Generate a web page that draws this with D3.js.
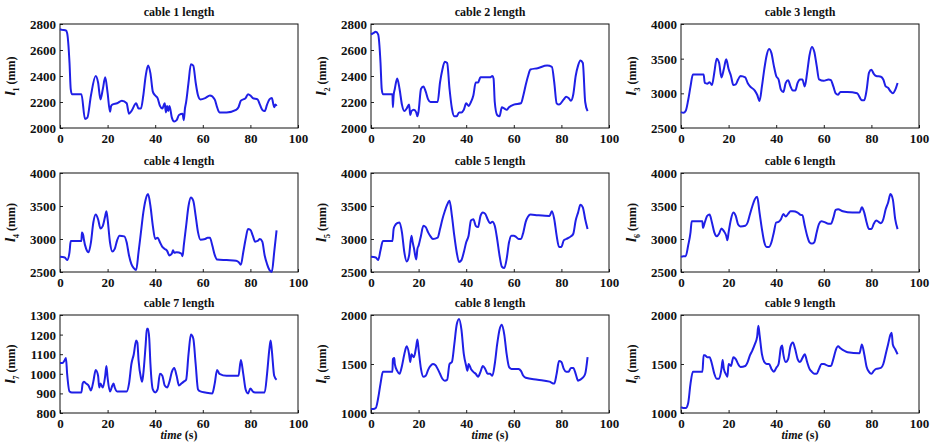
<!DOCTYPE html>
<html lang="en">
<head>
<meta charset="utf-8">
<title>cable lengths</title>
<script src="https://cdn.jsdelivr.net/npm/d3@7"></script>
<style>
  body { margin: 0; background: #fff; }
  svg text { font-family: "Liberation Serif", "DejaVu Serif", serif; font-weight: bold; fill: #111; }
</style>
</head>
<body>
<script>
// [time (s), length (mm)]
var cable1 = [[0,2760],[1,2755],[2.5,2750],[3,2730],[4,2500],[4.5,2300],[5,2260],[9,2260],[10.5,2070],[11.5,2080],[13,2250],[15,2400],[16,2350],[17,2220],[18,2300],[19,2390],[20,2270],[21,2125],[21.5,2170],[22,2180],[24,2190],[26,2210],[28,2190],[29,2110],[30,2130],[32,2190],[33,2150],[34,2150],[35,2250],[36,2400],[37,2480],[38,2420],[39,2280],[40,2250],[41,2230],[42,2170],[43,2150],[44,2190],[44.5,2120],[45,2170],[45.5,2130],[46,2170],[47,2080],[48,2050],[49,2060],[50,2100],[51.5,2110],[52,2060],[52.5,2150],[53,2200],[54,2350],[55,2490],[56,2480],[57,2350],[58,2250],[59,2220],[61,2230],[63,2250],[65,2220],[66,2160],[67,2120],[70,2120],[74,2140],[75,2160],[76,2210],[78,2230],[79,2260],[80,2250],[81,2230],[83,2220],[84,2180],[85,2140],[86,2130],[87,2180],[88,2220],[89,2230],[90,2160],[90.5,2180],[91,2170]];
var cable2 = [[0,2720],[1,2730],[2,2740],[3,2720],[4,2500],[4.5,2300],[5,2260],[9,2260],[9.2,2160],[9.5,2250],[10,2300],[11,2380],[12,2300],[13,2180],[14,2130],[15,2150],[16,2180],[16.5,2100],[17,2130],[18,2140],[19,2120],[19.5,2090],[20,2130],[21,2300],[22,2320],[23,2280],[24,2220],[25,2200],[28,2200],[29,2350],[30,2450],[31,2510],[32,2500],[33,2300],[34,2150],[35,2090],[36,2090],[37,2120],[38,2120],[39,2140],[40,2190],[41,2170],[42,2200],[43,2250],[44,2350],[45,2350],[46,2390],[48,2390],[50,2390],[51,2400],[51.5,2380],[52,2200],[53,2100],[54,2090],[55,2160],[56,2150],[57,2140],[58,2160],[60,2180],[63,2190],[64,2250],[65,2330],[66,2400],[67,2450],[70,2460],[74,2480],[76,2470],[77,2350],[78,2190],[79,2180],[81,2220],[82,2240],[83,2230],[84,2210],[85,2260],[86,2400],[87,2480],[88,2520],[89,2500],[90,2200],[91,2130]];
var cable3 = [[0,2730],[1,2720],[2,2750],[3,2900],[4,3100],[5,3270],[9.5,3270],[10,3150],[11,3140],[12,3160],[13,3120],[14,3300],[15,3500],[16,3440],[17,3230],[18,3350],[19,3490],[20,3350],[21,3250],[22,3120],[23,3130],[24,3200],[25,3250],[27,3230],[28,3150],[29,3100],[31,3040],[32,2980],[33,2890],[34,3100],[35,3350],[36,3550],[37,3640],[38,3580],[39,3400],[40,3250],[41,3200],[42,3050],[43,3020],[44,3150],[45,3190],[46,3100],[47,3040],[48,3040],[49,3150],[50,3200],[51,3200],[52,3100],[53,3300],[54,3550],[55,3670],[56,3600],[57,3400],[58,3200],[60,3180],[62,3200],[63,3190],[64,3100],[65,3000],[66,2980],[67,3020],[70,3020],[74,3000],[76,2900],[77,2900],[78,3050],[79,3300],[80,3340],[81,3280],[82,3250],[84,3240],[85,3200],[86,3100],[87,3080],[88,3030],[89,3000],[90,3050],[91,3150]];
var cable4 = [[0,2730],[2,2720],[3,2680],[4,2800],[4.5,2970],[9,2970],[9.2,3100],[9.8,3050],[10,3000],[11,2850],[12,2800],[13,2950],[14,3250],[15,3370],[16,3300],[17,3160],[18,3200],[19,3350],[19.5,3420],[20,3300],[21,2950],[22,2810],[23,2850],[24,2980],[25,3050],[27,3040],[28,2950],[29,2750],[30,2620],[31,2560],[32,2530],[33,2800],[34,3100],[35,3400],[36,3600],[37,3680],[38,3500],[39,3200],[40,3000],[41,3020],[42,2950],[43,2880],[44,2850],[45,2820],[46,2750],[47,2780],[47.5,2830],[48,2790],[49,2800],[51,2780],[51.5,2740],[52,2900],[53,3200],[54,3500],[55,3630],[56,3580],[57,3350],[58,3100],[59,2990],[61,3000],[62,3020],[63,3020],[64,2900],[65,2760],[66,2690],[70,2680],[74,2670],[75,2650],[76,2610],[77,2800],[78,3000],[79,3150],[80,3140],[81,3050],[82,2960],[83,2970],[84,3000],[85,2960],[86,2750],[87,2620],[88,2530],[89,2500],[90,2800],[91,3130]];
var cable5 = [[0,2730],[2,2720],[3,2680],[4,2830],[5,2970],[9,2970],[9.5,3150],[10,3200],[11,3240],[12,3250],[13,3100],[14,2800],[15,2660],[16,2750],[17,3050],[17.5,2950],[18,2870],[19,2690],[19.5,2850],[20,2900],[21,3050],[22,3200],[23,3180],[24,3100],[25,3040],[26,3000],[28,3020],[29,3150],[30,3300],[31,3420],[32,3520],[33,3580],[34,3350],[35,3050],[36,2800],[37,2650],[38,2680],[39,2800],[40,2950],[41,3050],[42,3280],[43,3300],[44,3200],[45,3180],[46,3350],[47,3400],[48,3380],[49,3300],[50,3240],[51,3260],[52,3200],[53,3000],[54,2750],[55,2580],[56,2560],[57,2700],[58,2950],[59,3050],[60,3050],[61,3030],[62,3000],[63,3000],[64,3100],[65,3260],[66,3340],[67,3370],[70,3360],[75,3350],[76,3420],[77,3300],[78,3050],[79,2880],[80,2880],[81,2980],[82,3000],[84,3040],[85,3080],[86,3280],[87,3400],[88,3520],[89,3480],[90,3300],[91,3150]];
var cable6 = [[0,2730],[1,2740],[2,2740],[3,2900],[4,3100],[4.5,3270],[9,3270],[9.2,3170],[10,3250],[11,3350],[12,3370],[13,3250],[14,3100],[15,3040],[16,3080],[17,3160],[18,3120],[19,3050],[19.5,2980],[20,3100],[21,3300],[22,3400],[23,3350],[24,3220],[25,3190],[27,3200],[28,3250],[29,3380],[30,3500],[31,3600],[32,3640],[33,3400],[34,3150],[35,2950],[36,2880],[37,2880],[38,2950],[39,3100],[40,3250],[41,3260],[42,3300],[43,3380],[44,3340],[45,3380],[46,3420],[47,3420],[49,3400],[50,3370],[51,3360],[52,3200],[53,3050],[54,2950],[55,2930],[56,2950],[57,3100],[58,3230],[59,3270],[60,3260],[62,3230],[63,3230],[64,3320],[65,3440],[66,3450],[68,3420],[72,3400],[75,3400],[76,3480],[77,3400],[78,3250],[79,3150],[80,3150],[81,3230],[82,3280],[83,3260],[84,3240],[85,3300],[86,3450],[87,3550],[88,3680],[89,3600],[90,3300],[91,3150]];
var cable7 = [[0,1055],[1,1055],[2,1070],[2.5,1080],[3,1000],[4,910],[5,905],[9,905],[9.5,950],[10,960],[11,950],[12,940],[13,915],[14,960],[15,1020],[16,990],[16.5,930],[17,950],[18,930],[19,990],[19.5,1040],[20,980],[21,910],[22,940],[22.5,950],[23,930],[24,910],[28,910],[29,950],[30,1050],[31,1100],[32,1170],[32.5,1160],[33,1070],[34,980],[34.5,960],[35,1000],[36,1150],[36.5,1230],[37,1230],[37.5,1180],[38,1050],[39,920],[40,905],[41,920],[42,1000],[43,990],[44,940],[45,930],[46,960],[47,1010],[48,1030],[49,990],[50,940],[51,950],[52,960],[53,970],[54,1100],[55,1200],[56,1180],[57,1050],[58,920],[59,910],[61,905],[64,900],[65,950],[66,1020],[67,1000],[70,990],[75,990],[76,1070],[77,1000],[78,920],[79,900],[80,925],[81,910],[82,905],[86,905],[87,1000],[88,1130],[88.5,1170],[89,1120],[90,990],[91,970]];
var cable8 = [[0,1040],[1,1040],[2,1050],[3,1150],[4,1300],[5,1420],[9,1420],[9.2,1550],[9.8,1560],[10,1500],[11,1430],[12,1400],[13,1480],[14,1600],[15,1680],[16,1600],[16.5,1520],[17,1600],[18,1570],[19,1680],[19.5,1750],[20,1650],[21,1450],[22,1370],[23,1380],[24,1440],[25,1480],[26,1500],[27,1490],[28,1450],[29,1400],[30,1350],[31,1330],[32,1340],[33,1500],[34,1520],[35,1700],[36,1900],[37,1960],[38,1850],[39,1600],[40,1480],[40.5,1430],[41,1500],[42,1450],[43,1420],[44,1400],[45,1370],[46,1420],[47,1480],[48,1450],[49,1400],[50,1400],[51,1380],[52,1500],[53,1700],[54,1850],[55,1900],[56,1800],[57,1600],[58,1470],[59,1450],[62,1450],[63,1430],[64,1380],[65,1360],[70,1340],[75,1320],[77,1300],[78,1400],[79,1530],[80,1520],[81,1450],[82,1420],[83,1420],[84,1460],[85,1460],[86,1400],[87,1330],[88,1340],[89,1360],[90,1400],[91,1570]];
var cable9 = [[0,1060],[1,1050],[2,1050],[3,1100],[4,1300],[5,1420],[9,1420],[9.5,1590],[10,1590],[11,1570],[12,1570],[13,1500],[14,1400],[15,1350],[16,1350],[17,1450],[17.5,1540],[18,1450],[19,1390],[19.5,1370],[20,1500],[21,1480],[22,1570],[23,1550],[24,1500],[25,1470],[27,1480],[28,1520],[29,1590],[30,1640],[31,1700],[32,1780],[32.5,1890],[33,1800],[34,1600],[35,1520],[36,1500],[37,1500],[38,1450],[39,1420],[40,1460],[41,1500],[42,1670],[42.5,1690],[43,1600],[44,1520],[45,1550],[46,1680],[47,1720],[48,1650],[49,1550],[50,1520],[51,1560],[52,1600],[53,1520],[54,1450],[55,1420],[56,1400],[57,1400],[58,1450],[59,1500],[60,1500],[62,1480],[63,1480],[64,1550],[65,1640],[66,1680],[67,1660],[70,1620],[75,1610],[76,1700],[77,1600],[78,1470],[79,1420],[80,1400],[81,1430],[82,1450],[84,1460],[85,1500],[86,1600],[87,1700],[88,1800],[88.5,1820],[89,1700],[90,1650],[91,1600]];

var series = [cable1, cable2, cable3, cable4, cable5, cable6, cable7, cable8, cable9];
var titles = ["cable 1 length", "cable 2 length", "cable 3 length", "cable 4 length", "cable 5 length",
              "cable 6 length", "cable 7 length", "cable 8 length", "cable 9 length"];
var yDomains = [[2000, 2800], [2000, 2800], [2500, 4000], [2500, 4000], [2500, 4000], [2500, 4000],
                [800, 1300], [1000, 2000], [1000, 2000]];
var yTicks = [[2000, 2200, 2400, 2600, 2800], [2000, 2200, 2400, 2600, 2800],
              [2500, 3000, 3500, 4000], [2500, 3000, 3500, 4000], [2500, 3000, 3500, 4000], [2500, 3000, 3500, 4000],
              [800, 900, 1000, 1100, 1200, 1300], [1000, 1500, 2000], [1000, 1500, 2000]];
var xTicks = [0, 20, 40, 60, 80, 100];

var W = 935, H = 446;
var colLeft = [60, 371, 681];
var boxW = 238;
var rowTop = [24, 173, 315];
var rowH = [104, 99, 98];

var svg = d3.select("body").append("svg")
    .attr("width", W)
    .attr("height", H);

series.forEach(function (data, i) {
    var col = i % 3, row = Math.floor(i / 3);
    var x0 = colLeft[col], y0 = rowTop[row], h = rowH[row];

    var xScale = d3.scaleLinear().domain([0, 100]).range([0, boxW]);
    var yScale = d3.scaleLinear().domain(yDomains[i]).range([h, 0]);

    var g = svg.append("g").attr("transform", "translate(" + x0 + "," + y0 + ")");

    // axes, ticks pointing inward like matlab
    var xAxis = g.append("g").attr("transform", "translate(0," + h + ")")
        .call(d3.axisBottom(xScale).tickValues(xTicks).tickFormat(d3.format("d"))
            .tickSizeInner(-3).tickSizeOuter(0).tickPadding(6));
    var yAxis = g.append("g")
        .call(d3.axisLeft(yScale).tickValues(yTicks[i]).tickFormat(d3.format("d"))
            .tickSizeInner(-3).tickSizeOuter(0).tickPadding(4));
    [xAxis, yAxis].forEach(function (a) {
        a.select(".domain").remove();
        a.selectAll("line").attr("stroke", "#222");
        a.selectAll("text").attr("font-size", 13).attr("font-family", "Liberation Serif")
            .attr("font-weight", "bold").attr("fill", "#111");
    });
    yAxis.selectAll("text").attr("dy", "0.35em");

    // box
    g.append("rect")
        .attr("width", boxW).attr("height", h)
        .attr("fill", "none").attr("stroke", "#111").attr("stroke-width", 1);

    var line = d3.line()
        .x(function (d) { return xScale(d[0]); })
        .y(function (d) { return yScale(d[1]); })
        .curve(d3.curveMonotoneX);

    g.append("path")
        .datum(data)
        .attr("d", line)
        .attr("fill", "none")
        .attr("stroke", "#1f1fe6")
        .attr("stroke-width", 2)
        .attr("stroke-linejoin", "round");

    g.append("text")
        .attr("x", boxW / 2).attr("y", -8)
        .attr("text-anchor", "middle")
        .attr("font-size", 12)
        .text(titles[i]);

    // y label: l_i (mm)
    var yl = g.append("text")
        .attr("transform", "translate(-45," + (h / 2) + ") rotate(-90)")
        .attr("text-anchor", "middle")
        .attr("font-size", 12);
    yl.append("tspan").attr("font-style", "italic").attr("font-size", 15).text("l");
    yl.append("tspan").attr("font-size", 8).attr("dy", 4).text(i + 1);
    yl.append("tspan").attr("dy", -4).text(" (mm)");

    if (row === 2) {
        var xl = g.append("text")
            .attr("x", boxW / 2).attr("y", h + 26)
            .attr("text-anchor", "middle")
            .attr("font-size", 12);
        xl.append("tspan").attr("font-style", "italic").text("time");
        xl.append("tspan").text(" (s)");
    }
});
</script>
</body>
</html>
